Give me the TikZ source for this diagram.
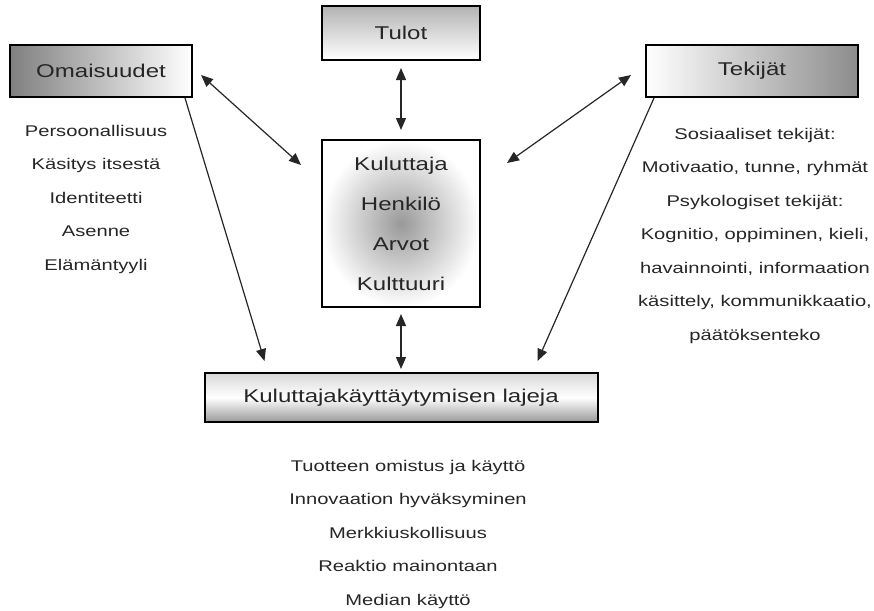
\documentclass[tikz,border=0pt]{standalone}
\usepackage{fontspec}
\setmainfont{Liberation Sans}[FakeStretch=1.3]
\usetikzlibrary{arrows.meta,positioning}
\tikzset{
    %Define standard arrow tip
    >={Triangle[length=12pt,width=10pt]},
    %Define style for boxes
    laatikko/.style={
           rectangle,
           draw=black, line width=2pt,
           text=black!85,
           font=\fontsize{18.5}{40}\selectfont,
           align=center},
    % Define style for the lists
    lista/.style={
           inner sep=0pt,
           text=black!85,
           font=\fontsize{15.5}{33.5}\selectfont,
           align=center},
    % Define arrow style
    nuoli/.style={
           line width=1.2pt,
           draw=black!85}
}

\begin{document}
\begin{tikzpicture}[x=1pt, y=-1pt]
 \useasboundingbox (0,0) rectangle (874,610);
 %boxes
 \node[laatikko, left color=black!50, right color=white,
       minimum width=182pt, minimum height=52pt] (omaisuudet) at (101,71) {Omaisuudet};
 \node[laatikko, top color=black!30, bottom color=white,
       minimum width=158pt, minimum height=54pt] (tulot) at (401,33) {Tulot};
 \node[laatikko, left color=white, right color=black!45,
       minimum width=212pt, minimum height=52pt] (tekijat) at (752,71) {Tekijät};
 \node[laatikko, inner color=black!40, outer color=white,
       minimum width=158pt, minimum height=167pt] (kuluttaja) at (401,223.5)
   {Kuluttaja\\Henkilö\\Arvot\\Kulttuuri};
 \node[laatikko, top color=black!15, bottom color=black!40, middle color=white,
       minimum width=393pt, minimum height=49pt] (lajeja) at (401,397.5)
   {Kuluttajakäyttäytymisen lajeja};
 %lists
 \node[lista, below=27pt of omaisuudet, xshift=-5pt] (omaisuudetlista)
   {Persoonallisuus\\Käsitys itsestä\\Identiteetti\\Asenne\\Elämäntyyli};
 \node[lista, below=30pt of tekijat, xshift=3pt] (tekijatlista)
   {Sosiaaliset tekijät:\\Motivaatio, tunne, ryhmät\\Psykologiset tekijät:\\
    Kognitio, oppiminen, kieli,\\havainnointi, informaation\\
    käsittely, kommunikkaatio,\\päätöksenteko};
 \node[lista, below=37pt of lajeja, xshift=7pt] (lajejalista)
   {Tuotteen omistus ja käyttö\\Innovaation hyväksyminen\\Merkkiuskollisuus\\
    Reaktio mainontaan\\Median käyttö};
 %arrows
 \draw[nuoli, <->] ([shift={(8,4)}]omaisuudet.east) -- ([shift={(-20,26)}]kuluttaja.north west);
 \draw[nuoli, <->, shorten <=7pt, shorten >=9pt] (tulot) -- (kuluttaja);
 \draw[nuoli, <->] ([shift={(-14,4)}]tekijat.west) -- ([shift={(26,24)}]kuluttaja.north east);
 \draw[nuoli, <->, shorten <=6pt, shorten >=3pt] (kuluttaja) -- (lajeja);
 \draw[nuoli, ->] ([shift={(-8,0)}]omaisuudet.south east) -- ([shift={(61,-11)}]lajeja.north west);
 \draw[nuoli, ->] ([shift={(9,0)}]tekijat.south west) -- ([shift={(-61,-11)}]lajeja.north east);
\end{tikzpicture}
\end{document}
